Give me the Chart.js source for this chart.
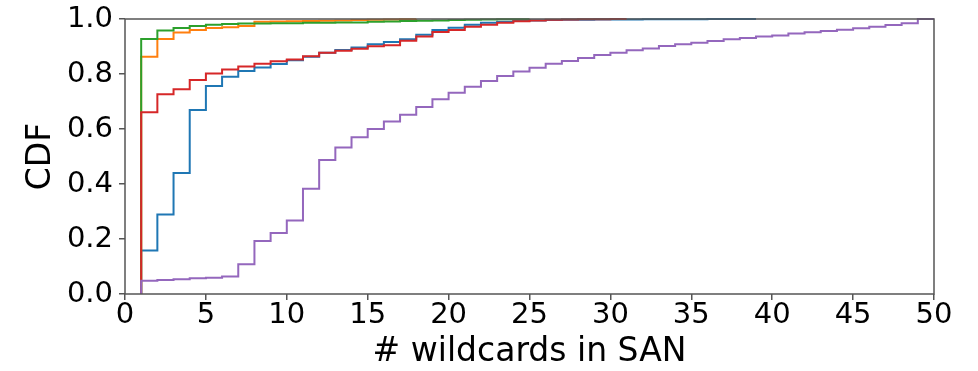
<!DOCTYPE html>
<html>
<head>
<meta charset="utf-8">
<script src="https://cdn.jsdelivr.net/npm/chart.js@4.4.1/dist/chart.umd.min.js"></script>
<style>
  html, body { margin: 0; padding: 0; background: #fff; }
  #wrap { width: 978px; height: 371px; }
</style>
</head>
<body>
<div id="wrap"><canvas id="cdfchart" width="978" height="371"></canvas></div>
<script>
// x positions (number of wildcards in SAN)
const wildcardCounts = [1, 2, 3, 4, 5, 6, 7, 8, 9, 10, 11, 12, 13, 14, 15, 16, 17, 18, 19, 20,
  21, 22, 23, 24, 25, 26, 27, 28, 29, 30, 31, 32, 33, 34, 35, 36, 37, 38, 39, 40,
  41, 42, 43, 44, 45, 46, 47, 48, 49, 50];

// CDF values, one per wildcard count
const blueCdf = [0.158, 0.289, 0.440, 0.669, 0.756, 0.790, 0.811, 0.824, 0.836, 0.850,
  0.863, 0.877, 0.887, 0.896, 0.908, 0.916, 0.926, 0.943, 0.960, 0.968,
  0.979, 0.986, 0.990, 0.993, 0.995, 0.996, 0.997, 0.997, 0.998, 0.998,
  0.998, 0.999, 0.999, 0.999, 0.999, 1.0, 1.0, 1.0, 1.0];
const orangeCdf = [0.863, 0.927, 0.951, 0.960, 0.967, 0.970, 0.975, 0.990, 0.991, 0.992,
  0.993, 0.994, 0.995, 0.996, 0.997, 0.998, 0.999, 1.0];
const greenCdf = [0.927, 0.958, 0.967, 0.975, 0.979, 0.982, 0.984, 0.984, 0.985, 0.985,
  0.986, 0.986, 0.987, 0.987, 0.990, 0.991, 0.993, 0.994, 0.995, 0.996,
  0.997, 0.998, 0.999, 0.999, 1.0];
const redCdf = [0.661, 0.726, 0.745, 0.778, 0.802, 0.816, 0.827, 0.837, 0.846, 0.853,
  0.865, 0.877, 0.885, 0.892, 0.901, 0.905, 0.921, 0.936, 0.953, 0.960,
  0.972, 0.979, 0.986, 0.992, 0.995, 0.997, 0.998, 0.999, 0.999, 1.0, 1.0];
const purpleCdf = [0.048, 0.051, 0.054, 0.057, 0.059, 0.064, 0.108, 0.193, 0.222, 0.267,
  0.383, 0.487, 0.533, 0.570, 0.600, 0.627, 0.652, 0.680, 0.708, 0.732,
  0.754, 0.775, 0.793, 0.809, 0.823, 0.837, 0.847, 0.858, 0.869, 0.877,
  0.886, 0.893, 0.902, 0.908, 0.914, 0.920, 0.926, 0.931, 0.936, 0.940,
  0.947, 0.952, 0.956, 0.961, 0.966, 0.972, 0.978, 0.985, 1.0, 1.0];

const xTicks = [0, 5, 10, 15, 20, 25, 30, 35, 40, 45, 50];
const yTicks = [0.0, 0.2, 0.4, 0.6, 0.8, 1.0];

const FONT = 'DejaVu Sans';

// every curve starts from 0 at the first wildcard count
function toSteps(values) {
  const pts = [{ x: wildcardCounts[0], y: 0 }];
  values.forEach((v, i) => pts.push({ x: wildcardCounts[i], y: v }));
  return pts;
}

function series(values, color, order) {
  return {
    data: toSteps(values),
    borderColor: color,
    borderWidth: 2,
    stepped: 'before',
    pointRadius: 0,
    fill: false,
    clip: 4,
    order: order
  };
}

// matplotlib-like axes frame drawn above the lines
const framePlugin = {
  id: 'frame',
  afterDatasetsDraw(chart) {
    const { ctx, chartArea: a } = chart;
    ctx.save();
    ctx.strokeStyle = '#555';
    ctx.lineWidth = 1.5;
    ctx.strokeRect(a.left, a.top, a.right - a.left, a.bottom - a.top);
    ctx.restore();
  }
};

new Chart(document.getElementById('cdfchart'), {
  type: 'line',
  data: {
    datasets: [
      series(blueCdf, '#1f77b4', 4),
      series(orangeCdf, '#ff7f0e', 3),
      series(greenCdf, '#2ca02c', 2),
      series(redCdf, '#d62728', 1),
      series(purpleCdf, '#9467bd', 0)
    ]
  },
  options: {
    responsive: false,
    animation: false,
    layout: { padding: { left: 0, top: 19, right: 44, bottom: 0 } },
    plugins: {
      legend: { display: false },
      tooltip: { enabled: false }
    },
    scales: {
      x: {
        type: 'linear',
        min: 0,
        max: 50,
        afterFit: (scale) => { scale.height = 77; },
        afterBuildTicks: (scale) => { scale.ticks = xTicks.map(v => ({ value: v })); },
        grid: { drawOnChartArea: false, tickLength: 6, color: '#555', lineWidth: 1.5 },
        border: { display: false },
        ticks: {
          color: '#000',
          padding: 0,
          maxRotation: 0,
          font: { family: FONT, size: 29, lineHeight: 1.1 }
        },
        title: {
          display: true,
          text: '# wildcards in SAN',
          color: '#000',
          font: { family: FONT, size: 33, lineHeight: 1 },
          padding: { top: 0, bottom: 2 }
        }
      },
      y: {
        min: 0,
        max: 1,
        afterFit: (scale) => {
          scale.width = 125;
          scale.paddingTop = 0;
          scale.paddingBottom = 0;
        },
        afterBuildTicks: (scale) => { scale.ticks = yTicks.map(v => ({ value: v })); },
        grid: { drawOnChartArea: false, tickLength: 6, color: '#555', lineWidth: 1.5 },
        border: { display: false },
        ticks: {
          color: '#000',
          padding: 6,
          font: { family: FONT, size: 29 },
          callback: (v) => Number(v).toFixed(1)
        },
        title: {
          display: true,
          text: 'CDF',
          color: '#000',
          font: { family: FONT, size: 33, lineHeight: 1 },
          padding: { top: 25, bottom: 0 }
        }
      }
    }
  },
  plugins: [framePlugin]
});
</script>
</body>
</html>
